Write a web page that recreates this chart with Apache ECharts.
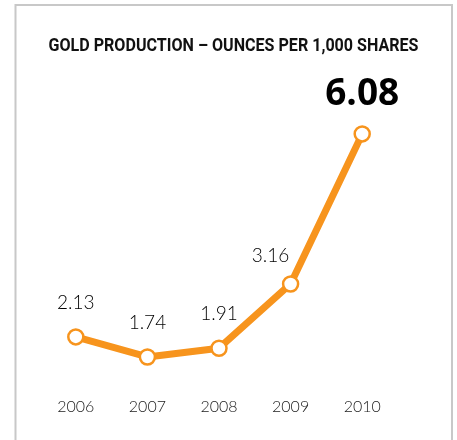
<!DOCTYPE html>
<html>
<head>
<meta charset="utf-8">
<style>
  html, body { margin: 0; padding: 0; background: #fff; }
  #chart { width: 457px; height: 440px; }
</style>
<script src="https://cdn.jsdelivr.net/npm/echarts@6/dist/echarts.min.js"></script>
</head>
<body>
<div id="chart"></div>
<script>
// Gold production, ounces per 1,000 shares
const years = ['2006', '2007', '2008', '2009', '2010'];
const ouncesPerThousand = [2.13, 1.74, 1.91, 3.16, 6.08];
const titleText = 'GOLD PRODUCTION \u2013 OUNCES PER 1,000 SHARES';

const ORANGE = '#F7941D';
const TITLE_FONT = 'bold 19px Roboto, "DejaVu Sans", sans-serif';
const TITLE_WIDTH = 370; // condensed headline width

// Squeeze a regular bold face into a condensed headline
function measure(text, font) {
  const ctx = document.createElement('canvas').getContext('2d');
  ctx.font = font;
  return ctx.measureText(text).width;
}
const titleScale = TITLE_WIDTH / measure(titleText, TITLE_FONT);

const chart = echarts.init(document.getElementById('chart'), null, { renderer: 'canvas' });

const lastIndex = ouncesPerThousand.length - 1;
const seriesData = ouncesPerThousand.map(function (v, i) {
  if (i === lastIndex) {
    // latest year is called out in a large bold figure
    return {
      value: v,
      label: {
        fontFamily: '"Open Sans", sans-serif',
        fontWeight: 'bold',
        fontSize: 37,
        color: '#000',
        distance: 12
      }
    };
  }
  if (i === lastIndex - 1) {
    // keep this label clear of the steep segment that follows
    return { value: v, label: { offset: [-20, 6] } };
  }
  return v;
});

chart.setOption({
  animation: false,
  backgroundColor: '#fff',
  graphic: [{
    type: 'rect',
    silent: true,
    shape: { x: 15.5, y: 5, width: 436.5, height: 460 },
    style: { fill: 'none', stroke: '#c8c8c8', lineWidth: 2 }
  }, {
    type: 'text',
    silent: true,
    x: 233.5,
    y: 46,
    scaleX: titleScale,
    style: {
      text: titleText,
      font: TITLE_FONT,
      fill: '#111',
      align: 'center',
      verticalAlign: 'middle'
    }
  }],
  grid: { left: 40, right: 59, top: 86.6, bottom: 45 },
  xAxis: {
    type: 'category',
    data: years,
    boundaryGap: true,
    axisLine: { show: false },
    axisTick: { show: false },
    splitLine: { show: false },
    axisLabel: {
      margin: 4,
      fontFamily: 'Lato, sans-serif',
      fontWeight: 300,
      fontSize: 16,
      color: '#1a1a1a'
    }
  },
  yAxis: {
    type: 'value',
    min: 1,
    max: 7,
    show: false
  },
  series: [{
    type: 'line',
    data: seriesData,
    symbol: 'circle',
    symbolSize: 15,
    showAllSymbol: true,
    lineStyle: { color: ORANGE, width: 7 },
    itemStyle: { color: '#fff', borderColor: ORANGE, borderWidth: 2.5 },
    label: {
      show: true,
      position: 'top',
      distance: 16,
      fontFamily: 'Lato, sans-serif',
      fontWeight: 300,
      fontSize: 19,
      color: '#000'
    },
    z: 3
  }]
});
</script>
</body>
</html>
